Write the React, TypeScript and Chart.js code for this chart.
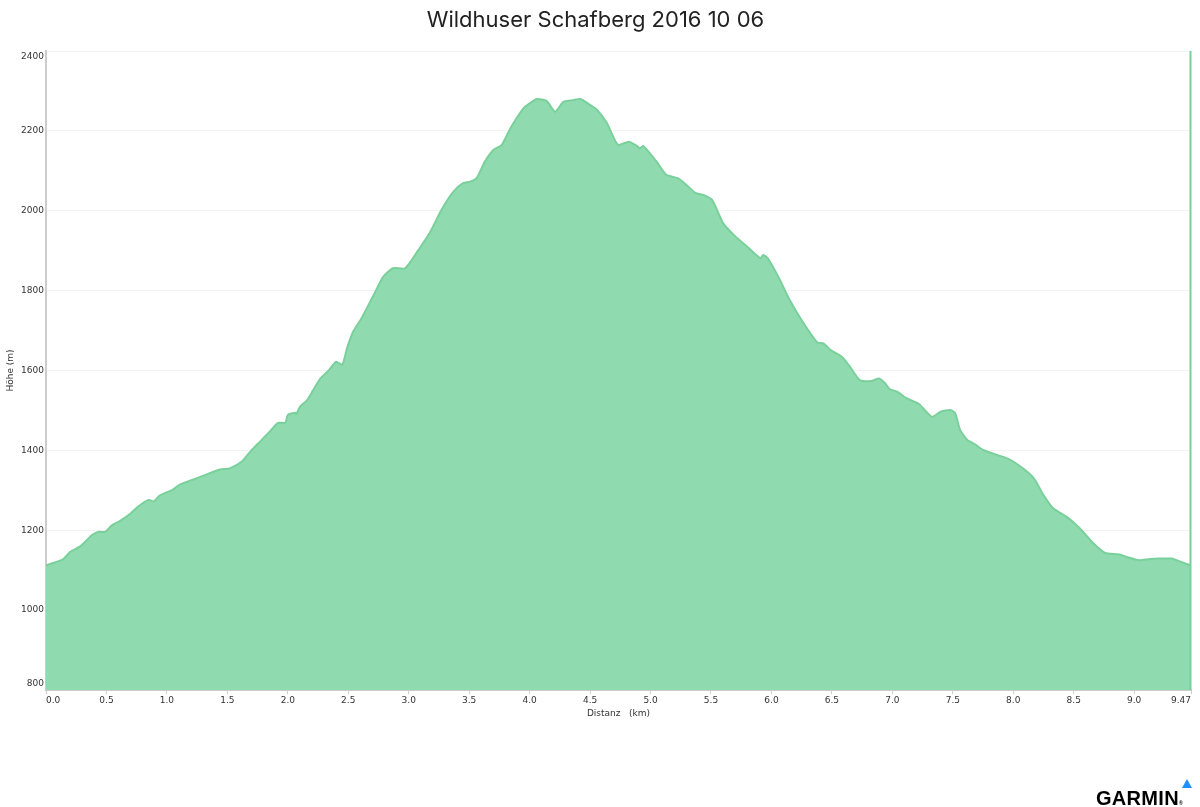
import React, { useEffect, useRef } from "react";
import { Chart, registerables } from "chart.js";

Chart.register(...registerables);

const CHART_TITLE = "Wildhuser Schafberg 2016 10 06";
const X_TITLE = "Distanz   (km)";
const Y_TITLE = "Höhe (m)";

const DIST_KM = [
  0.0, 0.14, 0.2, 0.28, 0.34, 0.38, 0.43, 0.49, 0.54, 0.61, 0.7, 0.76, 0.85, 0.89, 0.94,
  1.05, 1.11, 1.22, 1.33, 1.44, 1.52, 1.62, 1.69, 1.77, 1.85, 1.92, 1.98, 2.0, 2.06, 2.07,
  2.1, 2.16, 2.21, 2.27, 2.34, 2.4, 2.45, 2.49, 2.54, 2.61, 2.71, 2.79, 2.87, 2.97, 3.07,
  3.18, 3.27, 3.37, 3.45, 3.51, 3.56, 3.63, 3.7, 3.77, 3.84, 3.95, 4.0, 4.06, 4.14, 4.21,
  4.28, 4.36, 4.42, 4.5, 4.56, 4.64, 4.73, 4.82, 4.89, 4.91, 4.94, 5.05, 5.13, 5.23, 5.3,
  5.37, 5.44, 5.51, 5.6, 5.69, 5.8, 5.86, 5.91, 5.93, 5.97, 6.07, 6.15, 6.25, 6.38, 6.43,
  6.49, 6.58, 6.65, 6.73, 6.83, 6.89, 6.94, 6.98, 7.04, 7.12, 7.22, 7.28, 7.33, 7.4, 7.48,
  7.52, 7.56, 7.62, 7.68, 7.75, 7.86, 7.95, 8.03, 8.13, 8.18, 8.25, 8.33, 8.44, 8.55, 8.66,
  8.76, 8.87, 8.94, 9.04, 9.13, 9.21, 9.31, 9.41, 9.47,
];

const ELEV_M = [
  1112, 1127, 1146, 1159, 1176, 1188, 1196, 1196, 1211, 1223, 1242, 1259, 1276, 1272, 1287,
  1302, 1315, 1327, 1340, 1352, 1355, 1372, 1397, 1422, 1447, 1469, 1469, 1489, 1494, 1490,
  1509, 1526, 1551, 1580, 1601, 1622, 1614, 1656, 1697, 1731, 1789, 1835, 1856, 1856, 1897,
  1948, 2002, 2048, 2069, 2073, 2081, 2123, 2152, 2165, 2206, 2257, 2269, 2280, 2275, 2248,
  2273, 2277, 2280, 2265, 2252, 2219, 2165, 2173, 2162, 2156, 2162, 2123, 2090, 2081, 2064,
  2045, 2039, 2027, 1969, 1939, 1910, 1893, 1881, 1889, 1881, 1827, 1777, 1726, 1670, 1668,
  1651, 1635, 1609, 1576, 1574, 1580, 1568, 1553, 1547, 1530, 1516, 1497, 1484, 1497, 1501,
  1493, 1451, 1426, 1416, 1401, 1389, 1380, 1366, 1343, 1326, 1288, 1255, 1234, 1205, 1168,
  1143, 1140, 1133, 1125, 1128, 1129, 1129, 1118, 1112,
];

const X_TICKS = [0, 0.5, 1, 1.5, 2, 2.5, 3, 3.5, 4, 4.5, 5, 5.5, 6, 6.5, 7, 7.5, 8, 8.5, 9, 9.47];
const X_TICK_LABELS = [
  "0.0", "0.5", "1.0", "1.5", "2.0", "2.5", "3.0", "3.5", "4.0", "4.5", "5.0", "5.5",
  "6.0", "6.5", "7.0", "7.5", "8.0", "8.5", "9.0", "9.47",
];
const Y_TICKS = [800, 1000, 1200, 1400, 1600, 1800, 2000, 2200, 2400];

const FILL = "rgb(143, 219, 175)";
const LINE = "rgb(122, 208, 155)";
const AXIS_FONT = "'DejaVu Sans', Verdana, sans-serif";

const yLabelPlugin = {
  id: "yLabels",
  afterDraw(chart: any) {
    const y = chart.scales.y;
    const area = chart.chartArea;
    const ctx = chart.ctx;
    ctx.save();
    ctx.font = `9px ${AXIS_FONT}`;
    ctx.fillStyle = "#333";
    ctx.textAlign = "right";
    ctx.textBaseline = "middle";
    const half = 6;
    Y_TICKS.forEach((v) => {
      let py = y.getPixelForValue(v);
      if (py - half < area.top) py = area.top + half;
      if (py + half > area.bottom) py = area.bottom - half;
      ctx.fillText(String(v), area.left - 2, py);
    });
    // right-hand edge marker
    const x = chart.scales.x;
    const px = x.getPixelForValue(x.max);
    ctx.strokeStyle = LINE;
    ctx.lineWidth = 2;
    ctx.beginPath();
    ctx.moveTo(px - 0.5, area.top);
    ctx.lineTo(px - 0.5, area.bottom);
    ctx.stroke();
    ctx.restore();
  },
};

export default function App() {
  const ref = useRef<HTMLCanvasElement | null>(null);

  useEffect(() => {
    if (!ref.current) return;
    const chart = new Chart(ref.current, {
      type: "line",
      data: {
        datasets: [
          {
            data: DIST_KM.map((d, i) => ({ x: d, y: ELEV_M[i] })),
            borderColor: LINE,
            backgroundColor: FILL,
            borderWidth: 2,
            fill: "start",
            pointRadius: 0,
            tension: 0.2,
          },
        ],
      },
      options: {
        responsive: false,
        animation: false,
        layout: { padding: { left: 0, right: 9, top: 0, bottom: 84 } },
        plugins: {
          legend: { display: false },
          tooltip: { enabled: false },
          title: {
            display: true,
            text: CHART_TITLE,
            color: "#222",
            font: { family: "Inter, 'Noto Sans', sans-serif", size: 22, weight: "normal" },
            padding: { top: 7, bottom: 17.6 },
          },
        },
        scales: {
          x: {
            type: "linear",
            min: 0,
            max: 9.47,
            afterBuildTicks: (scale: any) => {
              scale.ticks = X_TICKS.map((v) => ({ value: v }));
            },
            afterFit: (scale: any) => {
              scale.height = 33;
            },
            ticks: {
              align: "inner",
              autoSkip: false,
              maxRotation: 0,
              padding: 1,
              color: "#333",
              font: { family: AXIS_FONT, size: 9 },
              callback: (_v: any, i: number) => X_TICK_LABELS[i],
            },
            grid: {
              drawOnChartArea: false,
              drawTicks: true,
              tickLength: 4,
              color: "#cfcfcf",
            },
            border: { display: true, color: "#cccccc", width: 2 },
            title: {
              display: true,
              text: X_TITLE,
              color: "#333",
              font: { family: AXIS_FONT, size: 9 },
              padding: { top: 2, bottom: 4 },
            },
          },
          y: {
            min: 800,
            max: 2400,
            afterBuildTicks: (scale: any) => {
              scale.ticks = Y_TICKS.map((v) => ({ value: v }));
            },
            afterFit: (scale: any) => {
              scale.width = 46;
            },
            ticks: { display: false },
            grid: {
              color: "#f2f2f2",
              drawTicks: true,
              tickLength: 2,
            },
            border: { display: true, color: "#cccccc", width: 2 },
            title: {
              display: true,
              text: Y_TITLE,
              color: "#333",
              font: { family: AXIS_FONT, size: 9 },
              padding: { top: 5, bottom: 4 },
            },
          },
        },
      } as any,
      plugins: [yLabelPlugin],
    });
    return () => chart.destroy();
  }, []);

  return (
    <div
      style={{
        position: "fixed",
        left: 0,
        top: 0,
        width: 1200,
        height: 807,
        background: "#fff",
        overflow: "hidden",
      }}
    >
      <canvas ref={ref} width={1200} height={807} style={{ display: "block" }} />
      <div
        style={{
          position: "absolute",
          left: 1096,
          top: 788,
          fontFamily: "'Liberation Sans', Arial, sans-serif",
          fontWeight: "bold",
          fontSize: 20,
          lineHeight: "20px",
          color: "#000",
          letterSpacing: 0.3,
        }}
      >
        GARMIN
        <span style={{ fontSize: 5, verticalAlign: "baseline" }}>®</span>
      </div>
      <div
        style={{
          position: "absolute",
          left: 1182,
          top: 779,
          width: 0,
          height: 0,
          borderLeft: "5.5px solid transparent",
          borderRight: "5.5px solid transparent",
          borderBottom: "9px solid rgb(30, 144, 255)",
        }}
      />
    </div>
  );
}
